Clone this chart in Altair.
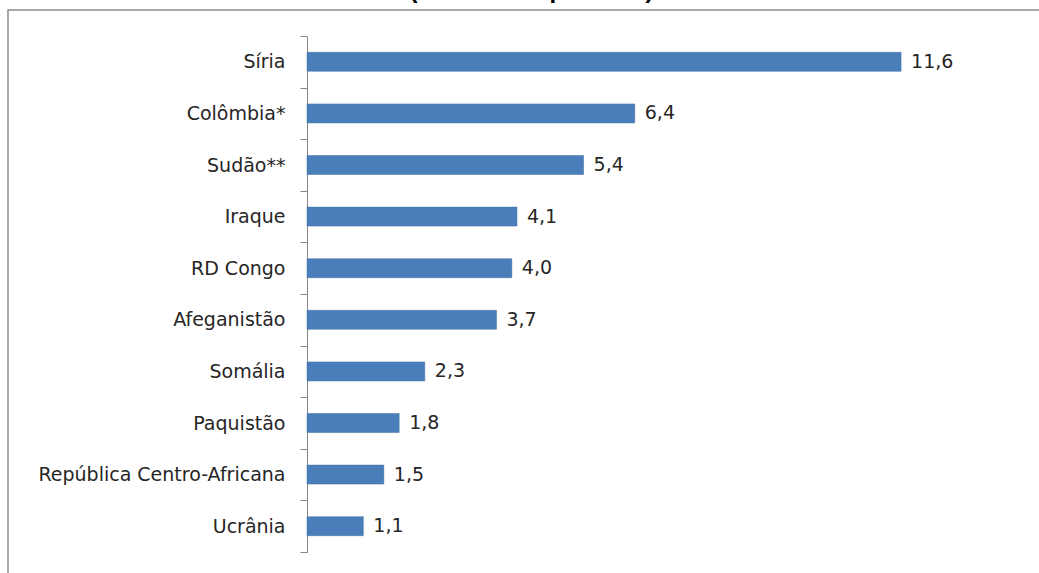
import altair as alt
import pandas as pd

countries = ["Síria", "Colômbia*", "Sudão**", "Iraque", "RD Congo", "Afeganistão",
             "Somália", "Paquistão", "República Centro-Africana", "Ucrânia"]
values = [11.6, 6.4, 5.4, 4.1, 4.0, 3.7, 2.3, 1.8, 1.5, 1.1]
title_text = "(milhões de pessoas)"

df = pd.DataFrame({"pais": countries, "valor": values})
df["rotulo"] = [f"{v:.1f}".replace(".", ",") for v in values]

FONT = "DejaVu Sans"

y_enc = alt.Y("pais:N", sort=countries, title=None,
              scale=alt.Scale(paddingInner=0, paddingOuter=0),
              axis=alt.Axis(tickBand="extent", domainColor="#868686", tickColor="#868686",
                            tickSize=7, labelPadding=15, labelFont=FONT, labelFontSize=19,
                            labelColor="#262626", labelLimit=400))
x_enc = alt.X("valor:Q", axis=None, scale=alt.Scale(domain=[0, 14]))

base = alt.Chart(df)
bars = base.mark_bar(color="#4a7ebb", stroke="#41719f", strokeWidth=0.5, height=19).encode(
    x=x_enc, y=y_enc)
labels = base.mark_text(align="left", baseline="middle", dx=10, font=FONT, fontSize=19,
                        color="#262626").encode(x=x_enc, y=y_enc, text="rotulo:N")

frame = alt.Chart(alt.Data(values=[{"k": 1}])).mark_rect(
    fill=None, stroke="#8c8c8c", strokeWidth=1.5
).encode(x=alt.value(-299), x2=alt.value(745), y=alt.value(-26), y2=alt.value(550))

# Chart title, mostly cut off at the top edge as in the reference
title = alt.Chart(alt.Data(values=[{"t": title_text}])).mark_text(
    font="Liberation Sans", fontSize=24, fontWeight="bold", color="#000000",
    align="center", baseline="alphabetic"
).encode(text="t:N", x=alt.value(224.5), y=alt.value(-38))

chart = alt.layer(frame, bars, labels, title).properties(
    width=717, height=516,
    autosize=alt.AutoSizeParams(type="none"),
    padding={"left": 307, "top": 36, "right": 15, "bottom": 21},
    background="white",
).configure_view(stroke=None)

chart.save("out.html", embed_options={"renderer": "svg", "actions": False})
